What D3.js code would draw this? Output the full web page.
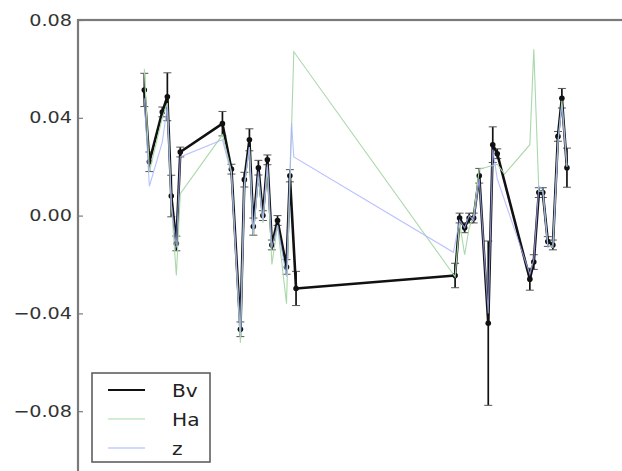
<!DOCTYPE html>
<html>
<head>
<meta charset="utf-8">
<script src="https://cdn.jsdelivr.net/npm/d3@7"></script>
<style>
  html, body { margin: 0; padding: 0; background: #fff; overflow: hidden; }
  svg { display: block; }
  text { font-family: "DejaVu Sans", sans-serif; }
</style>
</head>
<body>
<svg id="chart" width="622" height="471"></svg>
<script>
// Observation epochs (days) and measured values for each band
const bvX = [11.8,12.7,15.0,15.9,16.6,17.5,18.2,25.7,27.3,28.9,29.6,30.5,31.2,32.1,32.9,33.7,34.5,35.5,37.1,37.7,38.8,67.1,67.9,68.8,69.6,70.4,71.4,73.0,73.8,74.6,80.4,81.1,82.0,82.7,83.6,84.5,85.4,86.1,87.0];
const bvY = [0.0514,0.022,0.0424,0.0486,0.008,-0.0114,0.026,0.0376,0.019,-0.0465,0.0147,0.031,-0.0045,0.0196,0.0,0.0228,-0.012,-0.002,-0.021,0.0163,-0.0298,-0.0245,-0.001,-0.005,-0.001,-0.001,0.0163,-0.044,0.029,0.0253,-0.026,-0.019,0.0094,0.0094,-0.0106,-0.012,0.0324,0.048,0.0196];
const bvErr = [0.0068,0.004,0.002,0.0098,0.0085,0.003,0.002,0.005,0.002,0.003,0.003,0.0045,0.0035,0.003,0.002,0.002,0.002,0.002,0.003,0.0025,0.007,0.005,0.002,0.002,0.002,0.002,0.003,0.0336,0.0073,0.002,0.0045,0.003,0.002,0.002,0.002,0.002,0.002,0.004,0.008];

const haX = [11.8,12.7,15.0,15.9,16.6,17.5,18.2,25.7,27.3,28.9,29.6,30.5,31.2,32.1,32.9,33.7,34.5,35.5,37.1,37.7,38.4,67.1,67.9,68.8,69.6,70.4,71.4,74.6,75.9,80.4,81.1,82.0,82.7,83.6,84.5,85.4,86.1,87.0];
const haY = [0.060,0.018,0.040,0.046,0.005,-0.0245,0.009,0.033,0.018,-0.052,0.012,0.028,-0.008,0.016,-0.003,0.020,-0.020,-0.004,-0.036,0.013,0.067,-0.025,-0.003,-0.016,-0.005,0.000,0.019,0.021,0.017,0.029,0.068,0.010,0.010,-0.012,-0.013,0.030,0.047,0.020];

const zX = [11.8,12.7,15.0,15.9,16.6,17.5,18.2,25.7,27.3,28.9,29.6,30.5,31.2,32.1,32.9,33.7,34.5,35.5,37.1,38.0,38.4,66.8,67.9,68.8,69.6,70.4,71.4,73.0,73.8,74.6,80.4,81.1,82.0,82.7,83.6,84.5,85.4,86.1,87.0];
const zY = [0.048,0.012,0.030,0.045,0.005,-0.013,0.024,0.031,0.017,-0.048,0.013,0.028,-0.007,0.018,-0.002,0.021,-0.013,-0.004,-0.025,0.038,0.024,-0.015,-0.002,-0.005,0.000,-0.002,0.015,-0.040,0.027,0.015,-0.024,-0.018,0.012,0.011,-0.013,-0.012,0.030,0.045,0.020];

const yTicks = [0.08, 0.04, 0.00, -0.04, -0.08];
const seriesNames = ["Bv", "Ha", "z"];
const seriesColors = ["#111111", "#aad8aa", "#a9b1ff"];

const svg = d3.select("#chart");
const mLeft = 78, mTop = 20, mRight = 640, mBottom = 509;
const tickStretch = 1.2;     // wide tick lettering
const legendStretch = 1.12;  // wide legend lettering

const x = d3.scaleLinear().domain([0, 100]).range([mLeft, mRight]);
const y = d3.scaleLinear().domain([-0.12, 0.08]).range([mBottom, mTop]);

const fmt = v => (v < 0 ? "\u2212" : "") + Math.abs(v).toFixed(2);
const widen = k => sel => sel.each(function () {
  const w = this.getComputedTextLength();
  d3.select(this).attr("textLength", w * k).attr("lengthAdjust", "spacingAndGlyphs");
});

// frame
svg.append("rect")
  .attr("x", mLeft).attr("y", mTop)
  .attr("width", mRight - mLeft).attr("height", mBottom - mTop)
  .attr("fill", "none").attr("stroke", "#7a7a7a").attr("stroke-width", 2.2);

// y axis with inward ticks
const yAxis = d3.axisLeft(y).tickValues(yTicks).tickFormat(fmt).tickSizeInner(-5).tickSizeOuter(0).tickPadding(8);
const gy = svg.append("g").attr("transform", `translate(${mLeft},0)`).call(yAxis);
gy.select(".domain").remove();
gy.selectAll(".tick line").attr("stroke", "#7a7a7a").attr("stroke-width", 1.2);
gy.selectAll(".tick text").attr("font-size", 16).attr("fill", "#333")
  .attr("font-family", "DejaVu Sans, sans-serif").attr("x", -6).call(widen(tickStretch));

const line = d3.line().x(d => x(d[0])).y(d => y(d[1]));
const plot = svg.append("g");

// Bv with error bars and markers
const bv = bvX.map((v, i) => [v, bvY[i], bvErr[i]]);
const eb = plot.append("g");
bv.forEach(d => {
  const cx = x(d[0]);
  eb.append("line").attr("x1", cx).attr("x2", cx).attr("y1", y(d[1] + d[2])).attr("y2", y(d[1] - d[2]))
    .attr("stroke", "#111").attr("stroke-width", 1.7);
  [d[1] + d[2], d[1] - d[2]].forEach(v => {
    eb.append("line").attr("x1", cx - 4).attr("x2", cx + 4).attr("y1", y(v)).attr("y2", y(v))
      .attr("stroke", "#555").attr("stroke-width", 1);
  });
});
plot.append("path").datum(bv).attr("d", line).attr("fill", "none")
  .attr("stroke", seriesColors[0]).attr("stroke-width", 2.6).attr("stroke-linejoin", "round");
plot.append("g").selectAll("circle").data(bv).join("circle")
  .attr("cx", d => x(d[0])).attr("cy", d => y(d[1])).attr("r", 2.8).attr("fill", "#111");

// Ha
plot.append("path").datum(haX.map((v, i) => [v, haY[i]])).attr("d", line).attr("fill", "none")
  .attr("stroke", seriesColors[1]).attr("stroke-width", 1.1);

// z
plot.append("path").datum(zX.map((v, i) => [v, zY[i]])).attr("d", line).attr("fill", "none")
  .attr("stroke", seriesColors[2]).attr("stroke-width", 1.1).attr("stroke-opacity", 0.8);

// legend
const lg = svg.append("g");
lg.append("rect").attr("x", 92).attr("y", 373).attr("width", 118).attr("height", 89)
  .attr("fill", "#fff").attr("stroke", "#555").attr("stroke-width", 1.5);
seriesNames.forEach((n, i) => {
  const ly = 390 + i * 29;
  lg.append("line").attr("x1", 108).attr("x2", 145).attr("y1", ly).attr("y2", ly)
    .attr("stroke", seriesColors[i]).attr("stroke-width", i === 0 ? 1.8 : 1.2);
  lg.append("text").attr("x", 172).attr("y", ly + 7).attr("font-size", 18).attr("fill", "#222")
    .text(n).call(widen(legendStretch));
});
</script>
</body>
</html>
